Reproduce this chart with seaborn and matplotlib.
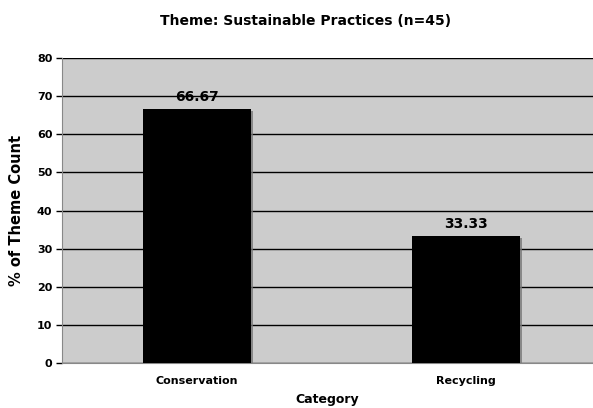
import matplotlib
matplotlib.use("Agg")
import matplotlib.pyplot as plt
import matplotlib.patheffects as pe
import seaborn as sns
import pandas as pd

categories = ["Conservation", "Recycling"]
values = [66.67, 33.33]
value_labels = ["66.67", "33.33"]
y_ticks = [0, 10, 20, 30, 40, 50, 60, 70, 80]

sns.set_style("white")
plt.rcParams['font.family'] = ['DejaVu Sans']
plt.rcParams['text.color'] = 'black'
plt.rcParams['axes.labelcolor'] = 'black'
plt.rcParams['xtick.color'] = 'black'
plt.rcParams['ytick.color'] = 'black'

df = pd.DataFrame({"Category": categories, "Value": values})

fig = plt.figure(figsize=(5.93, 4.08), dpi=100)
ax = fig.add_axes([0.1046, 0.110, 0.8954, 0.748])
ax.set_facecolor("#cccccc")

sns.barplot(data=df, x="Category", y="Value", color="black", width=0.40,
            saturation=1, ax=ax, zorder=3, edgecolor="none")
for p in ax.patches:
    p.set_path_effects([pe.SimplePatchShadow(offset=(1.5, -1.5), shadow_rgbFace="#777777", alpha=0.8), pe.Normal()])

ax.set_ylim(0, 80)
ax.set_yticks(y_ticks)
ax.yaxis.grid(True, color="black", linewidth=1.0, zorder=0)
ax.set_axisbelow(True)
ax.set_xlim(-0.501, 1.472)

for i, (v, lab) in enumerate(zip(values, value_labels)):
    ax.text(i, v + 1.2, lab, ha="center", va="bottom", fontsize=10, fontweight="bold", color="black")

for s in ["top", "right"]:
    ax.spines[s].set_visible(False)
ax.spines["left"].set_color("#888888")
ax.spines["bottom"].set_color("#888888")

ax.tick_params(axis="y", length=4, width=1, color="black", labelsize=8, pad=3, left=True)
ax.tick_params(axis="x", length=0, labelsize=8, pad=9)
for t in ax.get_yticklabels() + ax.get_xticklabels():
    t.set_fontweight("bold")
    t.set_color("black")

ax.set_xlabel("Category", fontsize=9, fontweight="bold", labelpad=5, color="black")
ax.set_ylabel("% of Theme Count", fontsize=10.5, fontweight="bold", labelpad=9, color="black")
fig.suptitle("Theme: Sustainable Practices (n=45)", fontsize=10, fontweight="bold", y=0.965, x=0.515, color="black")

fig.savefig("out.png", dpi=100)
